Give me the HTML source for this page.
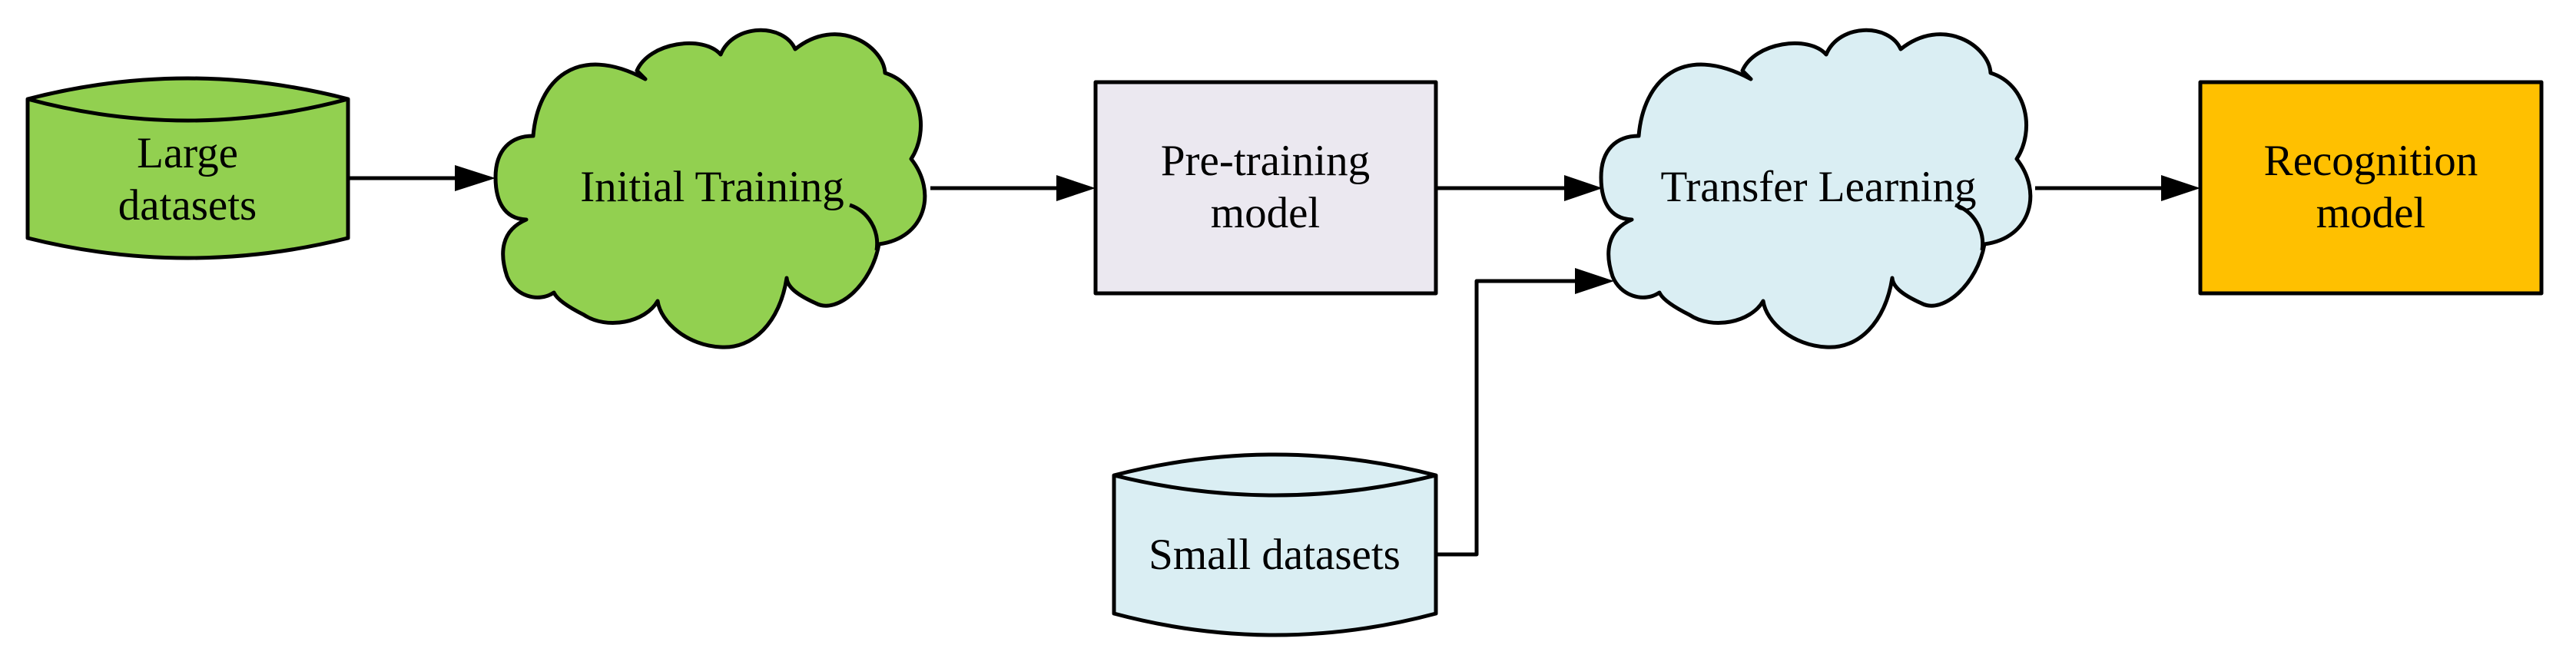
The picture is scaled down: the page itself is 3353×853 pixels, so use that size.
<!DOCTYPE html>
<html><head><meta charset="utf-8"><style>html,body{margin:0;padding:0;background:#fff}svg{display:block}</style></head>
<body>
<svg width="3353" height="853" viewBox="0 0 3353 853" xmlns="http://www.w3.org/2000/svg">
<defs>
<path id="cloud" d="M694,177 C700,105 750,55 840,103 L829,92 C845,55 915,45 938,71 C955,30 1020,30 1035,64 C1090,20 1150,60 1152,95 C1200,110 1210,170 1186,207 C1220,250 1205,310 1144,318 C1135,370 1090,410 1062,395 C1040,385 1025,375 1024,362 C1015,420 980,455 938,452 C895,450 860,420 856,392 C840,420 790,430 760,410 C740,400 725,390 721,381 C700,395 670,385 660,360 C650,330 652,300 685,286 C655,285 645,260 645,231 C645,195 665,177 694,177 Z"/>
</defs>
<g stroke="#000" stroke-width="5" fill="none" stroke-linejoin="round">
<!-- Large datasets -->
<path d="M36,129 Q244.5,75 453,129 L453,310 Q244.5,362 36,310 Z" fill="#92d050"/>
<path d="M36,129 Q244.5,185 453,129"/>
<!-- cloud 1 -->
<use href="#cloud" fill="#92d050"/>
<path d="M1106,267 C1130,275 1145,300 1141,326"/>
<!-- pretraining -->
<rect x="1426" y="107" width="443" height="275" fill="#ebe8f0"/>
<!-- cloud 2 -->
<g transform="translate(1439,0)">
<use href="#cloud" fill="#daeef3"/>
<path d="M1106,267 C1130,275 1145,300 1141,326"/>
</g>
<!-- recognition -->
<rect x="2864" y="107" width="444" height="275" fill="#ffc000"/>
<!-- small datasets -->
<path d="M1450,619 Q1659.5,565 1869,619 L1869,799 Q1659.5,855 1450,799 Z" fill="#daeef3"/>
<path d="M1450,619 Q1659.5,671 1869,619"/>
<!-- connectors -->
<line x1="453" y1="232" x2="600" y2="232"/>
<line x1="1211" y1="245" x2="1380" y2="245"/>
<line x1="1869" y1="245" x2="2040" y2="245"/>
<line x1="2649" y1="245" x2="2820" y2="245"/>
<polyline points="1869,722 1922,722 1922,366 2055,366"/>
</g>
<g fill="#000">
<polygon points="592,215 645,232 592,249"/>
<polygon points="1375,228 1426,245 1375,262"/>
<polygon points="2036,228 2086,245 2036,262"/>
<polygon points="2813,228 2864,245 2813,262"/>
<polygon points="2050,349 2101,366 2050,383"/>
</g>
<g font-family="Liberation Serif, serif" font-size="57" text-anchor="middle" fill="#000">
<text x="244" y="218">Large</text>
<text x="244" y="286">datasets</text>
<text x="927" y="262">Initial Training</text>
<text x="1647" y="228">Pre-training</text>
<text x="1647" y="296">model</text>
<text x="2367" y="262">Transfer Learning</text>
<text x="3086" y="228">Recognition</text>
<text x="3086" y="296">model</text>
<text x="1659" y="741">Small datasets</text>
</g>
</svg>
</body></html>
